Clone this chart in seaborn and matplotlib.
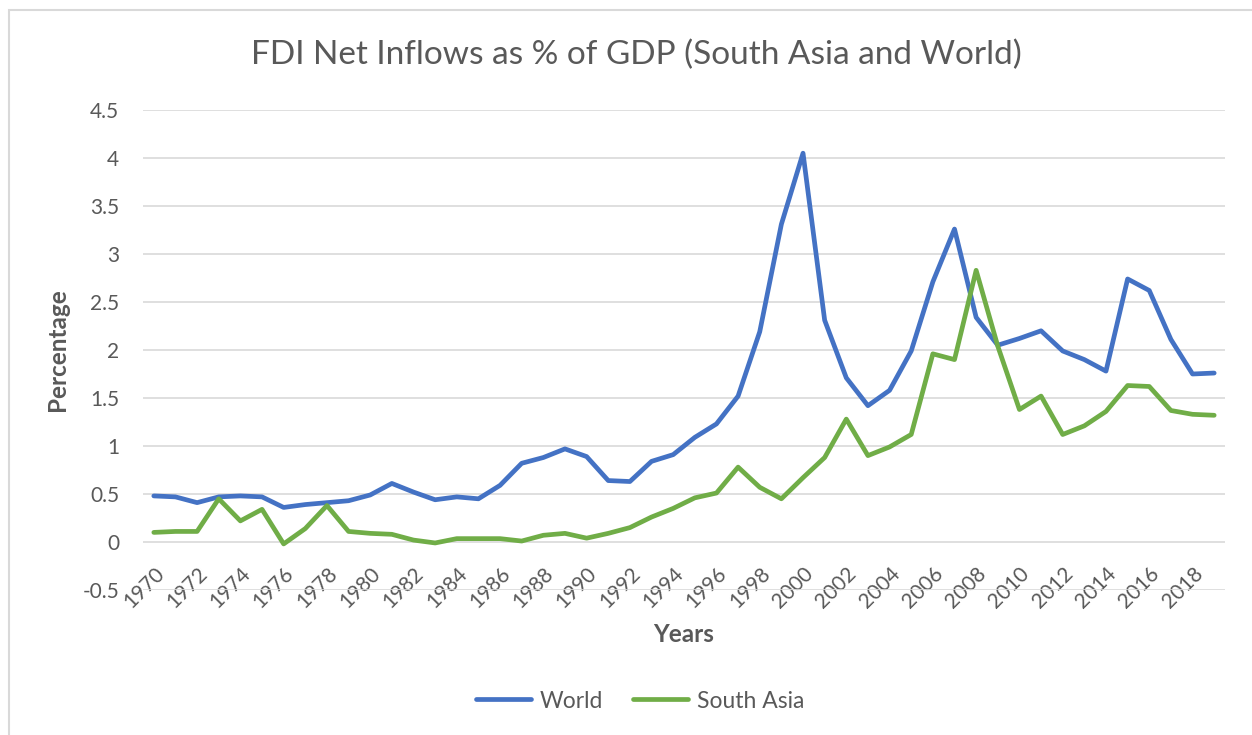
import numpy as np
import pandas as pd
import matplotlib
matplotlib.use("Agg")
import matplotlib.pyplot as plt
import seaborn as sns
from matplotlib.patches import Rectangle
from matplotlib.lines import Line2D

years = list(range(1970, 2020))
world = [0.48, 0.47, 0.41, 0.47, 0.48, 0.47, 0.36, 0.39, 0.41, 0.43,
         0.49, 0.61, 0.52, 0.44, 0.47, 0.45, 0.59, 0.82, 0.88, 0.97,
         0.89, 0.64, 0.63, 0.84, 0.91, 1.09, 1.23, 1.52, 2.19, 3.31,
         4.05, 2.31, 1.71, 1.42, 1.58, 1.99, 2.71, 3.26, 2.34, 2.05,
         2.12, 2.20, 1.99, 1.90, 1.78, 2.74, 2.62, 2.11, 1.75, 1.76]
south_asia = [0.10, 0.11, 0.11, 0.45, 0.22, 0.34, -0.02, 0.14, 0.38, 0.11,
              0.09, 0.08, 0.02, -0.01, 0.035, 0.035, 0.035, 0.01, 0.07, 0.09,
              0.04, 0.09, 0.15, 0.26, 0.35, 0.46, 0.51, 0.78, 0.57, 0.45,
              0.67, 0.88, 1.28, 0.90, 0.99, 1.12, 1.96, 1.90, 2.83, 2.04,
              1.38, 1.52, 1.12, 1.21, 1.36, 1.63, 1.62, 1.37, 1.33, 1.32]
series_names = ["World", "South Asia"]
colors = ["#4472C4", "#70AD47"]
y_ticks = [-0.5, 0, 0.5, 1, 1.5, 2, 2.5, 3, 3.5, 4, 4.5]
y_tick_labels = ["-0.5", "0", "0.5", "1", "1.5", "2", "2.5", "3", "3.5", "4", "4.5"]
x_tick_years = years[::2]
title = "FDI Net Inflows as % of GDP (South Asia and World)"

df = pd.DataFrame({
    "Year": years * 2,
    "Value": world + south_asia,
    "Series": [series_names[0]] * len(years) + [series_names[1]] * len(years),
})

sns.set_theme(style="white")
plt.rcParams["font.family"] = ["Lato", "DejaVu Sans"]
TXT = "#595959"

fig = plt.figure(figsize=(12.52, 7.35), dpi=100)
W, H = 1252, 735
ax = fig.add_axes([143 / W, 1 - 590 / H, (1225 - 143) / W, (590 - 110) / H])

sns.lineplot(data=df, x="Year", y="Value", hue="Series", palette=colors,
             hue_order=series_names, ax=ax, linewidth=3.4, legend=False,
             solid_capstyle="round", solid_joinstyle="round")

ax.set_xlim(1969.5, 2019.5)
ax.set_ylim(-0.5, 4.5)
ax.set_yticks(y_ticks)
ax.set_yticklabels(y_tick_labels, color=TXT, fontsize=15)
ax.yaxis.grid(True, color="#D9D9D9", linewidth=1.2)
ax.set_axisbelow(True)
ax.tick_params(axis="y", length=0, pad=17)
ax.set_xticks(x_tick_years)
ax.set_xticklabels([str(y) for y in x_tick_years], rotation=45, ha="right",
                   rotation_mode="anchor", color=TXT, fontsize=15)
ax.tick_params(axis="x", length=0, pad=-19)
for s in ax.spines.values():
    s.set_visible(False)

ax.set_xlabel("Years", fontsize=17.5, fontweight="bold", color=TXT, labelpad=8)
ax.set_ylabel("Percentage", fontsize=17.5, fontweight="bold", color=TXT, labelpad=10)

fig.text(636 / W, 1 - 55 / H, title, ha="center", va="center",
         fontsize=24, color=TXT)

handles = [Line2D([0], [0], color=c, linewidth=3.4, solid_capstyle="round")
           for c in colors]
fig.legend(handles, series_names, loc="center", bbox_to_anchor=(640 / W, 1 - 701 / H),
           ncol=2, frameon=False, fontsize=16.5, handlelength=2.4,
           handletextpad=0.4, columnspacing=1.3, labelcolor=TXT)

fig.patches.append(Rectangle((9 / W, -0.1), 1.2, 1 - 10 / H + 0.1,
                             transform=fig.transFigure, fill=False,
                             edgecolor="#D9D9D9", linewidth=1.5))

fig.savefig("out.png", dpi=100, facecolor="white")
